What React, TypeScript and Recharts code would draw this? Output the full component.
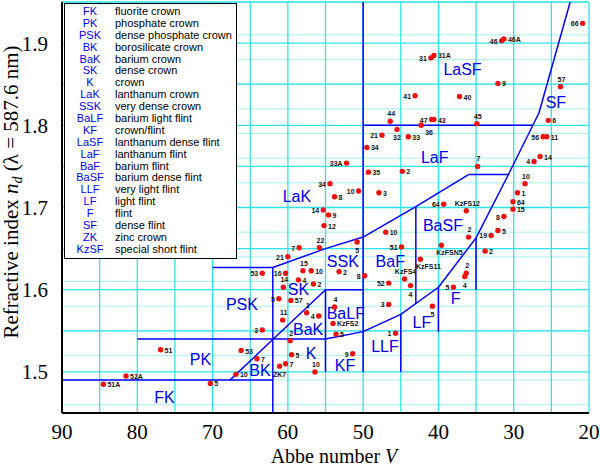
import React from "react";
import {
  CartesianGrid,
  ReferenceLine,
  Scatter,
  ScatterChart,
  XAxis,
  YAxis
} from "recharts";

// glass catalogue points: Abbe number, refractive index, catalogue label
const glassV: number[] = [
  20.85, 31.6, 31.3, 41.0, 40.6, 32.1, 23.8, 43.1, 37.2, 46.4,
  40.9, 40.6, 34.9, 25.4, 42.3, 45.5, 47.5, 44.0, 26.1, 25.6,
  49.5, 26.5, 27.3, 52.2, 34.8, 49.3, 44.8, 28.5, 54.4, 50.6,
  47.9, 53.8, 29.5, 39.3, 30.1, 30.1, 36.3, 55.3, 54.6, 55.2,
  47.0, 31.3, 32.1, 33.0, 36.0, 33.8, 36.3, 36.5, 38.0, 39.6,
  42.4, 44.9, 44.5, 43.7, 46.6, 46.6, 40.8, 45.7, 58.5, 55.8,
  50.8, 60.0, 63.4, 60.3, 58.0, 56.9, 53.2, 49.8, 58.6, 56.6,
  60.6, 61.2, 59.6, 57.5, 55.9, 60.7, 53.8, 54.0, 53.6, 63.4,
  59.7, 66.2, 59.5, 64.1, 60.3, 61.1, 56.4, 51.4, 66.9, 70.3,
  76.9, 81.5, 84.5
];
const glassNd: number[] = [
  1.924, 1.903, 1.905, 1.882, 1.885, 1.851, 1.847, 1.836, 1.835, 1.805,
  1.807, 1.807, 1.802, 1.806, 1.800, 1.795, 1.788, 1.786, 1.786, 1.786,
  1.773, 1.762, 1.756, 1.754, 1.750, 1.743, 1.744, 1.729, 1.729, 1.720,
  1.718, 1.713, 1.718, 1.704, 1.707, 1.698, 1.696, 1.697, 1.691, 1.678,
  1.670, 1.689, 1.672, 1.666, 1.664, 1.647, 1.620, 1.616, 1.603, 1.654,
  1.637, 1.652, 1.613, 1.605, 1.608, 1.582, 1.580, 1.547, 1.651, 1.651,
  1.658, 1.640, 1.620, 1.620, 1.623, 1.623, 1.622, 1.617, 1.612, 1.607,
  1.603, 1.589, 1.587, 1.572, 1.568, 1.563, 1.579, 1.559, 1.546, 1.551,
  1.538, 1.526, 1.521, 1.516, 1.510, 1.507, 1.500, 1.522, 1.497, 1.486,
  1.527, 1.495, 1.485
];
const glassName: string[] = [
  "66", "46", "46A", "31", "31A", "9", "57", "41", "40", "44",
  "47", "43", "45", "6", "36", "32", "21", "33", "56", "11",
  "34", "14", "4", "33A", "7", "35", "2", "10", "34", "10",
  "3", "8", "1", "64", "64", "15", "KzFS12", "14", "9", "12",
  "10", "8", "5", "19", "2", "2", "2", "4", "5", "KzFSN5",
  "KzFS11", "51", "KzFS4", "4", "52", "3", "5", "1", "7", "22",
  "5", "21", "53", "16", "15", "10", "2", "8", "4", "2",
  "14", "5", "57", "1", "4", "11", "4", "KzFS2", "5", "3",
  "2", "53", "5", "7", "7", "ZK7", "10", "9", "10", "5",
  "51", "52A", "51A"
];

// glass family names and where their names sit
const familyName: string[] = [
  "FK", "PK", "PSK", "BK", "SK", "BaK", "K", "KF", "BaLF", "LLF",
  "SSK", "BaF", "LaK", "LaF", "LaSF", "SF", "BaSF", "LF", "F"
];
const familyV: number[] = [
  76.4, 71.6, 66.1, 63.7, 58.6, 57.3, 56.9, 52.4, 52.3, 47.1,
  52.7, 46.4, 58.8, 40.5, 36.8, 24.4, 39.4, 42.2, 37.7
];
const familyNd: number[] = [
  1.469, 1.516, 1.582, 1.502, 1.600, 1.552, 1.523, 1.508, 1.571, 1.531,
  1.635, 1.635, 1.714, 1.761, 1.868, 1.828, 1.678, 1.561, 1.590
];

// family boundaries, each one a polyline of [V, nd]
const boundaries: number[][][] = [
  [[90, 1.45], [62, 1.45]],
  [[90, 1.45], [90, 1.49], [62, 1.49]],
  [[62, 1.45], [62, 1.627]],
  [[80, 1.54], [55, 1.54]],
  [[70, 1.627], [62, 1.627], [55, 1.65], [50, 1.664], [43, 1.701], [36, 1.74], [30.6, 1.74]],
  [[67.7, 1.49], [55, 1.6]],
  [[55, 1.6], [50, 1.6]],
  [[55, 1.5], [55, 1.6]],
  [[50, 1.5], [50, 1.95]],
  [[45, 1.5], [45, 1.57]],
  [[43, 1.583], [43, 1.701]],
  [[40, 1.549], [40, 1.603]],
  [[35, 1.6], [35, 1.663]],
  [[50, 1.8], [27.45, 1.8]],
  [[55, 1.54], [50, 1.549], [45, 1.57], [40, 1.603], [35, 1.663], [30.6, 1.742], [26.65, 1.815], [22.5, 1.95]]
];

const legendCode: string[] = [
  "FK", "PK", "PSK", "BK", "BaK", "SK", "K", "LaK", "SSK", "BaLF", "KF",
  "LaSF", "LaF", "BaF", "BaSF", "LLF", "LF", "F", "SF", "ZK", "KzSF"
];
const legendText: string[] = [
  "fluorite crown", "phosphate crown", "dense phosphate crown", "borosilicate crown",
  "barium crown", "dense crown", "crown", "lanthanum crown", "very dense crown",
  "barium light flint", "crown/flint", "lanthanum dense flint", "lanthanum flint",
  "barium flint", "barium dense flint", "very light flint", "light flint", "flint",
  "dense flint", "zinc crown", "special short flint"
];

const vTicks = [90, 80, 70, 60, 50, 40, 30, 20];
const ndTicks = [1.5, 1.6, 1.7, 1.8, 1.9];

// where each point's number goes (l, r, t, b, br)
const LABEL_SIDE = [
  "l", "l", "r", "l", "r", "r", "t", "l", "r", "t",
  "l", "r", "t", "r", "br", "b", "l", "r", "l", "r",
  "r", "r", "l", "l", "t", "r", "r", "t", "l", "l",
  "r", "r", "r", "l", "r", "r", "t", "l", "r", "r",
  "r", "l", "r", "l", "t", "r", "t", "b", "l", "br",
  "br", "l", "t", "b", "l", "l", "b", "l", "l", "t",
  "b", "l", "l", "l", "t", "r", "r", "l", "r", "r",
  "t", "l", "r", "t", "l", "t", "t", "r", "r", "l",
  "t", "r", "r", "r", "r", "b", "t", "l", "r", "r",
  "r", "r", "r"
];

const glasses = glassName.map((name, i) => ({
  v: glassV[i],
  nd: glassNd[i],
  name,
  side: LABEL_SIDE[i]
}));
const families = familyName.map((name, i) => ({ v: familyV[i], nd: familyNd[i], name }));

const r2 = (x: number) => Math.round(x * 100) / 100;
const ndMinor: number[] = [];
for (let k = 145; k <= 195; k++) ndMinor.push(r2(k / 100));
const ndMajor = [1.45, 1.5, 1.55, 1.6, 1.65, 1.7, 1.75, 1.8, 1.85, 1.9, 1.95];
const vGrid = [20, 25, 30, 35, 40, 45, 50, 55, 60, 65, 70, 75, 80, 85, 90];

const SANS = "'Liberation Sans', Arial, sans-serif";
const SERIF = "'Liberation Serif', 'Times New Roman', serif";
const BLUE = "#0000ff";

const GlassDot = (props: any) => {
  const { cx, cy, payload } = props;
  if (cx == null || cy == null) return null;
  const side = payload.side;
  let x = cx + 4;
  let y = cy + 3;
  let anchor: "start" | "end" | "middle" = "start";
  if (side === "l") {
    x = cx - 4;
    anchor = "end";
  } else if (side === "t") {
    x = cx + 1;
    y = cy - 5;
    anchor = "middle";
  } else if (side === "b") {
    x = cx;
    y = cy + 11;
    anchor = "middle";
  } else if (side === "br") {
    x = cx + 8;
    y = cy + 10;
    anchor = "middle";
  }
  return (
    <g>
      <circle cx={cx} cy={cy} r={2.7} fill="#ee1111" />
      <text
        x={x}
        y={y}
        textAnchor={anchor}
        fontFamily={SANS}
        fontSize={7}
        fontWeight="bold"
        fill="#111"
      >
        {payload.name}
      </text>
    </g>
  );
};

const FamilyLabel = (props: any) => {
  const { cx, cy, payload } = props;
  if (cx == null || cy == null) return null;
  return (
    <text
      x={cx}
      y={cy}
      dy="0.36em"
      textAnchor="middle"
      fontFamily={SANS}
      fontSize={16}
      fill="#0000ee"
    >
      {payload.name}
    </text>
  );
};

export default function App() {
  return (
    <div style={{ position: "absolute", left: 0, top: 0, width: 600, height: 468, background: "#fff" }}>
      <ScatterChart width={600} height={468} margin={{ top: 2, right: 11, bottom: 0, left: 0 }}>
        <CartesianGrid horizontalValues={ndMinor} vertical={false} stroke="#a8f0f2" strokeWidth={1} />
        <CartesianGrid
          horizontalValues={ndMajor}
          verticalValues={vGrid}
          stroke="#2ee4ec"
          strokeWidth={1.3}
        />
        <XAxis
          type="number"
          dataKey="v"
          domain={[20, 90]}
          reversed
          ticks={vTicks}
          allowDataOverflow
          height={55}
          axisLine={{ stroke: "#000", strokeWidth: 2 }}
          tickLine={false}
          tickMargin={5}
          tick={{ fill: "#000", fontFamily: SERIF, fontSize: 21 }}
        />
        <YAxis
          type="number"
          dataKey="nd"
          domain={[1.45, 1.95]}
          ticks={ndTicks}
          allowDataOverflow
          width={62}
          axisLine={{ stroke: "#000", strokeWidth: 2 }}
          tickLine={false}
          tickMargin={8}
          tickFormatter={(t: number) => t.toFixed(1)}
          tick={{ fill: "#000", fontFamily: SERIF, fontSize: 21 }}
        />
        {boundaries.flatMap((poly, i) =>
          poly.slice(1).map((pt, j) => (
            <ReferenceLine
              key={`b${i}-${j}`}
              segment={[
                { x: poly[j][0], y: poly[j][1] },
                { x: pt[0], y: pt[1] }
              ]}
              stroke={BLUE}
              strokeWidth={1.5}
              ifOverflow="hidden"
            />
          ))
        )}
        <Scatter data={families} shape={FamilyLabel} isAnimationActive={false} />
        <Scatter data={glasses} shape={GlassDot} isAnimationActive={false} />
      </ScatterChart>

      <svg
        width={600}
        height={468}
        style={{ position: "absolute", left: 0, top: 0, pointerEvents: "none" }}
      >
        <text x={334} y={463} textAnchor="middle" fontFamily={SERIF} fontSize={20} fill="#000">
          Abbe number <tspan fontStyle="italic">V</tspan>
        </text>
        <text
          transform="translate(18, 192) rotate(-90)"
          textAnchor="middle"
          fontFamily={SERIF}
          fontSize={21}
          fill="#000"
        >
          Refractive index <tspan fontStyle="italic">n</tspan>
          <tspan fontStyle="italic" fontSize={14} dy={4}>d</tspan>
          <tspan dy={-4}>{"  (λ = 587.6 nm)"}</tspan>
        </text>
      </svg>

      <div
        style={{
          position: "absolute",
          left: 64,
          top: 3,
          width: 171,
          height: 252,
          border: "1.5px solid #000",
          background: "#fff",
          fontFamily: SANS,
          fontSize: 11,
          paddingTop: 2
        }}
      >
        {legendCode.map((code, i) => (
          <div key={code} style={{ display: "flex", height: 11.9, lineHeight: "11.9px" }}>
            <span style={{ width: 50, textAlign: "center", color: "#0000ee" }}>{code}</span>
            <span style={{ color: "#000" }}>{legendText[i]}</span>
          </div>
        ))}
      </div>
    </div>
  );
}
